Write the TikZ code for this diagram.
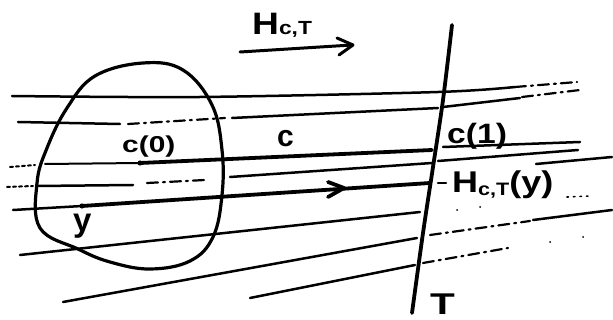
\documentclass[tikz,border=0pt]{standalone}
\usepackage{fontspec}
\setmainfont{Liberation Sans}
\begin{document}
\begin{tikzpicture}[x=1pt,y=-1pt,line cap=round,line join=round,
  ln/.style={line width=2.5pt},
  thn/.style={line width=2pt},
  thk/.style={line width=3.8pt},
  dd/.style={line width=2.2pt,dash pattern=on 11pt off 5pt on 2pt off 5pt},
  dt/.style={line width=1.6pt,dash pattern=on 1.5pt off 5pt},
  lbl/.style={inner sep=0pt,anchor=base west,font=\bfseries}]
\useasboundingbox (0,0) rectangle (613,320);

% transversal T
\draw[line width=3.8pt] plot[smooth] coordinates {(452,25) (443,100) (433,167) (423,233) (412,313)};

% blob
\draw[line width=3.2pt] plot[smooth cycle,tension=0.65] coordinates {(143,63) (183,70) (212,105) (222,150) (222,195) (213,237) (190,261) (150,269) (110,262) (78,249) (40,228) (37,183) (47,148) (67,108) (95,76)};

% line 1
\draw[ln] plot[smooth] coordinates {(12,96) (200,97) (438,92) (515,87)};
\draw[dd] (515,87) -- (577,82);
% line 2
\draw[ln] (18,122) -- (120,124);
\draw[dd] (128,124) -- (225,118);
\draw[ln] (232,118) -- (438,108);
\draw[ln] (443,107) -- (520,98);
\draw[dd] (522,97) -- (580,90);
% line 3 (curve c)
\draw[thn,dashed] (10,167) -- (35,165);
\draw[thn] (45,164) -- (140,163);
\fill (140,163) circle (2.6pt);
\draw[thk] (140,163) -- (432,150);
\draw[ln] (443,147) -- (580,142);
% line 4
\draw[thn,dashed] (7,187) -- (33,186);
\draw[ln] (37,186) -- (133,185);
\draw[dd] (147,183) -- (205,180);
\draw[ln] (230,177) -- (432,163);
\draw[ln] (438,161) -- (578,150);
% line 5 (through y)
\draw[ln] (13,210) -- (82,206);
\fill (82,206) circle (2.6pt);
\draw[thk] (82,206) -- (430,183);
\draw[thk] (328,182) -- (344,188) -- (328,197);
\draw[ln] (438,183) -- (446,183);
\draw[ln] (536,164) -- (612,157);
\draw[dt] (567,197) -- (590,196);
% line 6
\draw[ln] (20,255) -- (420,212);
% line 7
\draw[ln] (63,302) -- (417,238);
\draw[dd] (430,235) -- (530,221);
\draw[ln] (533,220) -- (612,210);
% line 8
\draw[ln] (250,298) -- (415,265);
\draw[dd] (423,263) -- (508,248);
% stray dots
\fill (457,210) circle (1pt) (480,207) circle (1pt) (550,242) circle (1pt) (583,237) circle (1pt);

% top arrow
\draw[line width=3pt] (240,52) -- (352,45);
\draw[line width=3pt] (337,38) -- (353,45) -- (339,55);

% labels
\node[lbl] (hct) at (252,35) {\scalebox{1.2}[1]{\fontsize{31}{31}\selectfont H\fontsize{19}{19}\selectfont c,T}};
\node[lbl] (c0) at (122,153) {\scalebox{1.3}[1]{\fontsize{23}{23}\selectfont c(0)}};
\node[lbl] (c) at (277,147) {\fontsize{30}{30}\selectfont c};
\node[lbl] (c1) at (447,144) {\scalebox{1.2}[1]{\fontsize{28}{28}\selectfont c(1)}};
\node[lbl] (hy) at (452,193) {\scalebox{1.2}[1]{\fontsize{30}{30}\selectfont H\raisebox{-3pt}{\fontsize{18}{18}\selectfont c,T}(y)}};
\node[lbl] (y) at (73,232) {\fontsize{33}{33}\selectfont y};
\node[lbl] (T) at (430,314) {\scalebox{1.35}[1]{\fontsize{30}{30}\selectfont T}};
\end{tikzpicture}
\end{document}
